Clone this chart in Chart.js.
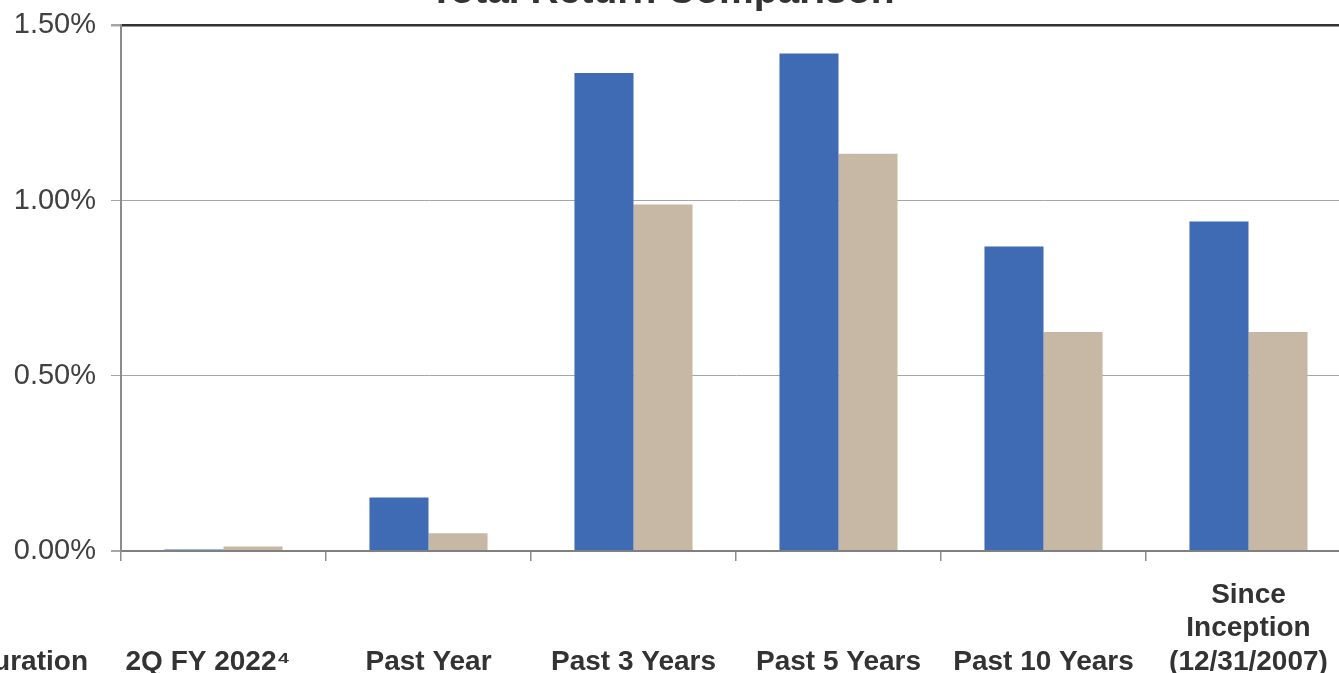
<!DOCTYPE html>
<html>
<head>
<meta charset="utf-8">
<title>Total Return Comparison</title>
<script src="https://cdn.jsdelivr.net/npm/chart.js@4"></script>
<style>
    html, body { margin: 0; padding: 0; background: #fff; overflow: hidden; }
    #wrap { position: absolute; left: 0; top: -7px; width: 1360px; height: 680px; }
</style>
</head>
<body>
<div id="wrap"><canvas id="returnChart"></canvas></div>
<script>
// periods along the bottom (blank lines keep the labels bottom-aligned)
const periods = [
    ['', '', '2Q FY 2022\u2074    '],
    ['', '', 'Past Year'],
    ['', '', 'Past 3 Years'],
    ['', '', 'Past 5 Years'],
    ['', '', 'Past 10 Years'],
    ['Since', 'Inception', '(12/31/2007)']
];
// total return, in percent
const fundReturns  = [0.004, 0.153, 1.364, 1.420, 0.869, 0.940];
const benchReturns = [0.013, 0.051, 0.989, 1.134, 0.625, 0.625];
const yTicks = [0, 0.5, 1.0, 1.5];

const fontFamily = "'Liberation Sans', Arial, sans-serif";

// title and row header drawn beside the chart
const sideText = {
    id: 'sideText',
    afterDraw(chart) {
        const ctx = chart.ctx;
        const area = chart.chartArea;
        ctx.save();
        ctx.fillStyle = '#333333';
        ctx.font = 'bold 39px ' + fontFamily;
        ctx.textAlign = 'center';
        ctx.textBaseline = 'alphabetic';
        ctx.fillText('Total Return Comparison', 662, area.top - 22);
        ctx.font = 'bold 28px ' + fontFamily;
        ctx.textAlign = 'right';
        ctx.textBaseline = 'middle';
        ctx.fillText('Duration', area.left - 33, area.bottom + 111);
        ctx.restore();
    }
};

const ctx = document.getElementById('returnChart').getContext('2d');
const chart = new Chart(ctx, {
    type: 'bar',
    data: {
        labels: periods,
        datasets: [{
            label: 'Fund',
            data: fundReturns,
            backgroundColor: '#3e6bb4',
            borderWidth: 0
        }, {
            label: 'Benchmark',
            data: benchReturns,
            backgroundColor: '#c6b8a4',
            borderWidth: 0
        }]
    },
    options: {
        responsive: true,
        maintainAspectRatio: false,
        animation: false,
        categoryPercentage: 0.576,
        barPercentage: 1.0,
        layout: { padding: { left: 0, right: 9, top: 24, bottom: 0 } },
        plugins: {
            legend: { display: false },
            tooltip: { enabled: false },
            title: { display: false }
        },
        scales: {
            x: {
                afterFit(s) { s.height = 122; },
                border: { color: '#808080', width: 2 },
                grid: {
                    drawOnChartArea: false,
                    drawTicks: true,
                    tickLength: 10,
                    color: '#8c8c8c',
                    lineWidth: 1.5
                },
                ticks: {
                    padding: 17,
                    maxRotation: 0,
                    autoSkip: false,
                    color: '#333333',
                    font: { family: fontFamily, size: 28, weight: 'bold', lineHeight: 1.2 }
                }
            },
            y: {
                min: 0,
                max: 1.5,
                afterFit(s) { s.width = 121; },
                afterBuildTicks(s) { s.ticks = yTicks.map(v => ({ value: v })); },
                border: { color: '#8c8c8c', width: 2 },
                grid: {
                    tickLength: 10,
                    tickColor: '#a6a6a6',
                    color: c => c.tick.value === 1.5 ? '#333333' : (c.tick.value === 0 ? '#808080' : '#a6a6a6'),
                    lineWidth: c => c.tick.value === 1.5 ? 2.5 : (c.tick.value === 0 ? 2 : 1)
                },
                ticks: {
                    padding: 15,
                    color: '#404040',
                    font: { family: fontFamily, size: 29 },
                    callback: v => v.toFixed(2) + '%'
                }
            }
        }
    },
    plugins: [sideText]
});
</script>
</body>
</html>
